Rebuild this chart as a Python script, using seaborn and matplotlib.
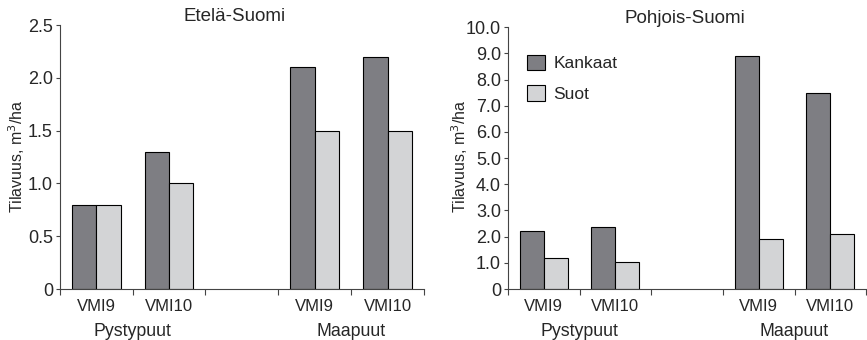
import matplotlib
matplotlib.use("Agg")
import matplotlib.pyplot as plt
import seaborn as sns
import pandas as pd

sns.set_style("ticks")
plt.rcParams['font.family'] = ['Liberation Sans', 'DejaVu Sans']

# ---- data ----
cat_keys = ["P_VMI9", "P_VMI10", "gap", "M_VMI9", "M_VMI10"]
cat_labels = ["VMI9", "VMI10", "", "VMI9", "VMI10"]
data_keys = ["P_VMI9", "P_VMI10", "M_VMI9", "M_VMI10"]
groups = ["Pystypuut", "Maapuut"]
series = ["Kankaat", "Suot"]

south_kankaat = [0.8, 1.3, 2.1, 2.2]
south_suot = [0.8, 1.0, 1.5, 1.5]
north_kankaat = [2.2, 2.35, 8.9, 7.5]
north_suot = [1.2, 1.05, 1.9, 2.1]

titles = ["Etelä-Suomi", "Pohjois-Suomi"]
ylabel = "Tilavuus, m$^3$/ha"
south_yticks = [0, 0.5, 1.0, 1.5, 2.0, 2.5]
south_yticklabels = ["0", "0.5", "1.0", "1.5", "2.0", "2.5"]
north_yticks = [0, 1, 2, 3, 4, 5, 6, 7, 8, 9, 10]
north_yticklabels = ["0", "1.0", "2.0", "3.0", "4.0", "5.0", "6.0", "7.0", "8.0", "9.0", "10.0"]

palette = {"Kankaat": "#7e7e83", "Suot": "#d3d4d6"}
axis_color = "#444444"


def make_df(k, s):
    return pd.DataFrame({
        "cat": data_keys * 2,
        "series": [series[0]] * 4 + [series[1]] * 4,
        "value": list(k) + list(s),
    })


fig = plt.figure(figsize=(8.67, 3.4), dpi=100)
ax1 = fig.add_axes([0.069, 0.150, 0.420, 0.776])
ax2 = fig.add_axes([0.586, 0.150, 0.413, 0.770])

panels = [
    (ax1, make_df(south_kankaat, south_suot), south_yticks, south_yticklabels, 2.5, titles[0], 0.019, 0.48),
    (ax2, make_df(north_kankaat, north_suot), north_yticks, north_yticklabels, 10.0, titles[1], 0.530, 0.495),
]

for ax, df, yt, ytl, ymax, title, ylx, tx in panels:
    sns.barplot(data=df, x="cat", y="value", hue="series", order=cat_keys,
                hue_order=series, palette=palette, width=0.67,
                edgecolor="black", linewidth=0.8, saturation=1, ax=ax,
                legend=(ax is ax2))
    ax.set_xlim(-0.5, 4.5)
    ax.set_ylim(0, ymax)
    ax.set_yticks(yt)
    ax.set_yticklabels(ytl, fontsize=13)
    ax.set_xticks([i - 0.5 for i in range(6)])
    ax.set_xticklabels([""] * 6)
    ax.set_xticks(range(5), minor=True)
    ax.set_xticklabels(cat_labels, minor=True, fontsize=12)
    ax.tick_params(axis="x", which="major", length=4, width=0.8, direction="out", color=axis_color)
    ax.tick_params(axis="x", which="minor", length=0, pad=7)
    ax.tick_params(axis="y", length=3, width=0.8, pad=2, color=axis_color)
    ax.set_xlabel("")
    ax.set_ylabel("")
    fig.text(ylx, 0.54, ylabel, rotation=90, ha="center", va="center", fontsize=11.5)
    for sp in ["top", "right"]:
        ax.spines[sp].set_visible(False)
    for sp in ["left", "bottom"]:
        ax.spines[sp].set_linewidth(0.8)
        ax.spines[sp].set_color(axis_color)
    ax.set_title(title, fontsize=13.5, pad=1, x=tx)
    ax.text(0.5, -0.13, groups[0], transform=ax.get_xaxis_transform(), ha="center", va="top", fontsize=12.8)
    ax.text(3.5, -0.13, groups[1], transform=ax.get_xaxis_transform(), ha="center", va="top", fontsize=12.8)

leg = ax2.legend(loc="upper left", bbox_to_anchor=(0.01, 0.955), frameon=False,
                 fontsize=12.5, handlelength=1.0, handleheight=1.0, labelspacing=0.8,
                 handletextpad=0.5)

fig.savefig("out.png", dpi=100)
